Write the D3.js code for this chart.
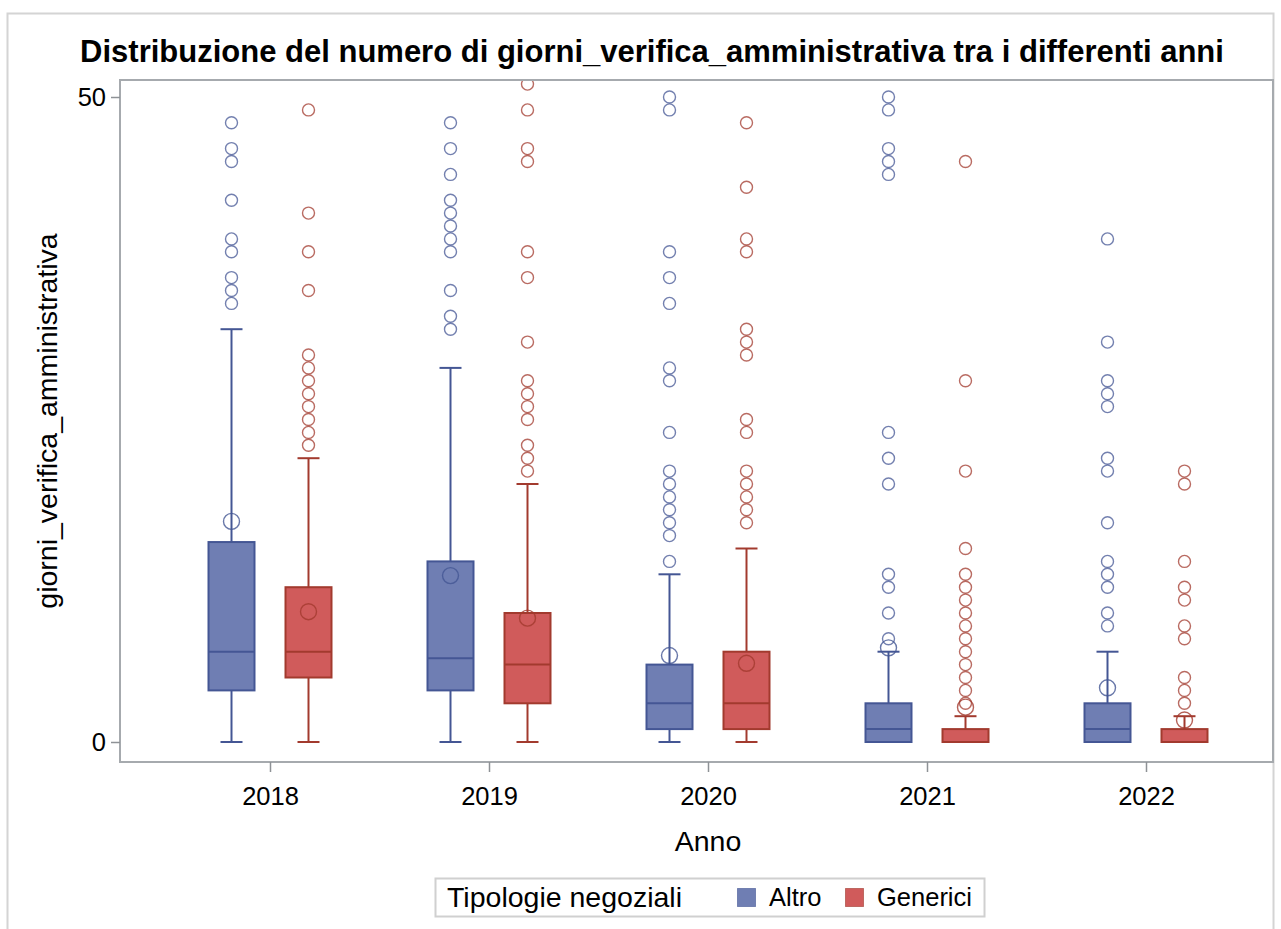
<!DOCTYPE html>
<html>
<head>
<meta charset="utf-8">
<script src="https://cdn.jsdelivr.net/npm/d3@7"></script>
<style>
  body { margin: 0; background: #fff; }
  text { font-family: "Liberation Sans", Arial, sans-serif; fill: #000; }
</style>
</head>
<body>
<div id="graph"></div>
<script>
var years = ["2018", "2019", "2020", "2021", "2022"]
var groups = ["Altro", "Generici"]

// Altro
var altroLow = [0, 0, 0, 0, 0]
var altroQ1 = [4, 4, 1, 0, 0]
var altroMedian = [7, 6.5, 3, 1, 1]
var altroQ3 = [15.5, 14, 6, 3, 3]
var altroHigh = [32, 29, 13, 7, 7]
var altroMean = [17.1, 12.9, 6.7, 7.3, 4.2]
var altroOutliers = [
  [34, 35, 36, 38, 39, 42, 45, 46, 48],
  [32, 33, 35, 38, 39, 40, 41, 42, 44, 46, 48],
  [14, 16, 17, 18, 19, 20, 21, 24, 28, 29, 34, 36, 38, 49, 50],
  [8, 10, 12, 13, 20, 22, 24, 44, 45, 46, 49, 50],
  [9, 10, 12, 13, 14, 17, 21, 22, 26, 27, 28, 31, 39]
]

// Generici
var genLow = [0, 0, 0, 0, 0]
var genQ1 = [5, 3, 1, 0, 0]
var genMedian = [7, 6, 3, 0, 0]
var genQ3 = [12, 10, 7, 1, 1]
var genHigh = [22, 20, 15, 2, 2]
var genMean = [10.1, 9.6, 6.1, 2.7, 1.7]
var genOutliers = [
  [23, 24, 25, 26, 27, 28, 29, 30, 35, 38, 41, 49],
  [21, 22, 23, 25, 26, 27, 28, 31, 36, 38, 45, 46, 49, 51],
  [17, 18, 19, 20, 21, 24, 25, 30, 31, 32, 38, 39, 43, 48],
  [3, 4, 5, 6, 7, 8, 9, 10, 11, 12, 13, 15, 21, 28, 45],
  [3, 4, 5, 8, 9, 11, 12, 14, 20, 21]
]

var yTicks = [0, 50]

var fills = { "Altro": "#6f7eb3", "Generici": "#d05b5b" }
var lines = { "Altro": "#445694", "Generici": "#a23a2e" }

var titleSize = 31, labelSize = 28.5, valueSize = 25.5

function buildBoxes(group, low, q1, med, q3, high, mean, outl) {
  return years.map(function(yr, i) {
    return { year: yr, group: group, low: low[i], q1: q1[i], median: med[i],
      q3: q3[i], high: high[i], mean: mean[i], outliers: outl[i] }
  })
}

var boxes = buildBoxes("Altro", altroLow, altroQ1, altroMedian, altroQ3, altroHigh, altroMean, altroOutliers)
  .concat(buildBoxes("Generici", genLow, genQ1, genMedian, genQ3, genHigh, genMean, genOutliers))

var width = 1281, height = 929
var plot = { left: 120, top: 80, right: 1273, bottom: 762 }

var svg = d3.select("#graph")
  .append("svg")
  .attr("width", width)
  .attr("height", height)

// outer border
svg.append("rect")
  .attr("x", 7.5).attr("y", 13.5)
  .attr("width", 1266).attr("height", 940)
  .attr("fill", "none")
  .attr("stroke", "#d4d4d4")
  .attr("stroke-width", 2)

var x = d3.scalePoint().domain(years).range([270, 1146])
var xOff = d3.scaleBand().domain(groups).range([-77, 77])
var y = d3.scaleLinear().domain([0, 50]).range([742, 97])

var boxW = 46, capW = 22

function cx(d) {
  return x(d.year) + xOff(d.group) + xOff.bandwidth() / 2
}

svg.append("defs").append("clipPath").attr("id", "clip")
  .append("rect")
  .attr("x", plot.left).attr("y", plot.top)
  .attr("width", plot.right - plot.left).attr("height", plot.bottom - plot.top)

var marks = svg.append("g").attr("clip-path", "url(#clip)")

var box = marks.selectAll(".box")
  .data(boxes)
  .enter()
  .append("g")
  .attr("class", "box")

// whiskers
box.append("line")
  .attr("x1", cx).attr("x2", cx)
  .attr("y1", function(d) { return y(d.high) })
  .attr("y2", function(d) { return y(d.q3) })
  .attr("stroke", function(d) { return lines[d.group] })
  .attr("stroke-width", 2)
box.append("line")
  .attr("x1", cx).attr("x2", cx)
  .attr("y1", function(d) { return y(d.q1) })
  .attr("y2", function(d) { return y(d.low) })
  .attr("stroke", function(d) { return lines[d.group] })
  .attr("stroke-width", 2)

// caps
box.selectAll(".cap")
  .data(function(d) { return [{ d: d, v: d.high }, { d: d, v: d.low }] })
  .enter()
  .append("line")
  .attr("x1", function(c) { return cx(c.d) - capW / 2 })
  .attr("x2", function(c) { return cx(c.d) + capW / 2 })
  .attr("y1", function(c) { return y(c.v) })
  .attr("y2", function(c) { return y(c.v) })
  .attr("stroke", function(c) { return lines[c.d.group] })
  .attr("stroke-width", 2)

// box
box.append("rect")
  .attr("x", function(d) { return cx(d) - boxW / 2 })
  .attr("y", function(d) { return y(d.q3) })
  .attr("width", boxW)
  .attr("height", function(d) { return Math.max(0, y(d.q1) - y(d.q3)) })
  .attr("fill", function(d) { return fills[d.group] })
  .attr("stroke", function(d) { return lines[d.group] })
  .attr("stroke-width", 2)

// median
box.append("line")
  .attr("x1", function(d) { return cx(d) - boxW / 2 })
  .attr("x2", function(d) { return cx(d) + boxW / 2 })
  .attr("y1", function(d) { return y(d.median) })
  .attr("y2", function(d) { return y(d.median) })
  .attr("stroke", function(d) { return lines[d.group] })
  .attr("stroke-width", 2)

// mean
box.append("circle")
  .attr("cx", cx)
  .attr("cy", function(d) { return y(d.mean) })
  .attr("r", 8)
  .attr("fill", "none")
  .attr("stroke", function(d) { return lines[d.group] })
  .attr("stroke-opacity", 0.8)
  .attr("stroke-width", 1.4)

// outliers
box.selectAll(".outlier")
  .data(function(d) { return d.outliers.map(function(v) { return { d: d, v: v } }) })
  .enter()
  .append("circle")
  .attr("class", "outlier")
  .attr("cx", function(o) { return cx(o.d) })
  .attr("cy", function(o) { return y(o.v) })
  .attr("r", 6)
  .attr("fill", "none")
  .attr("stroke", function(o) { return lines[o.d.group] })
  .attr("stroke-opacity", 0.75)
  .attr("stroke-width", 1.4)

// plot frame
svg.append("rect")
  .attr("x", plot.left).attr("y", plot.top)
  .attr("width", plot.right - plot.left).attr("height", plot.bottom - plot.top)
  .attr("fill", "none")
  .attr("stroke", "#a6aaae")
  .attr("stroke-width", 2)

// axes
var yAxis = svg.append("g")
  .attr("transform", "translate(" + plot.left + ",0)")
  .call(d3.axisLeft(y).tickValues(yTicks).tickSize(9).tickPadding(5))
yAxis.select(".domain").remove()
yAxis.selectAll(".tick line").attr("stroke", "#8e9296").attr("stroke-width", 1.5)
yAxis.selectAll(".tick text").attr("font-size", valueSize).attr("font-family", "Liberation Sans, Arial, sans-serif")

var xAxis = svg.append("g")
  .attr("transform", "translate(0," + plot.bottom + ")")
  .call(d3.axisBottom(x).tickSize(10).tickPadding(15))
xAxis.select(".domain").remove()
xAxis.selectAll(".tick line").attr("stroke", "#8e9296").attr("stroke-width", 1.5)
xAxis.selectAll(".tick text").attr("font-size", valueSize).attr("font-family", "Liberation Sans, Arial, sans-serif")

// title and axis labels
svg.append("text")
  .attr("x", 652)
  .attr("y", 62)
  .attr("text-anchor", "middle")
  .attr("font-size", titleSize)
  .attr("font-weight", "bold")
  .text("Distribuzione del numero di giorni_verifica_amministrativa tra i differenti anni")

svg.append("text")
  .attr("transform", "translate(57,421) rotate(-90)")
  .attr("text-anchor", "middle")
  .attr("font-size", labelSize)
  .text("giorni_verifica_amministrativa")

svg.append("text")
  .attr("x", 708)
  .attr("y", 851)
  .attr("text-anchor", "middle")
  .attr("font-size", labelSize)
  .text("Anno")

// legend
var legend = svg.append("g")
legend.append("rect")
  .attr("x", 435.5).attr("y", 878.5)
  .attr("width", 549).attr("height", 38)
  .attr("fill", "#fff")
  .attr("stroke", "#d0d0d0")
  .attr("stroke-width", 2)
legend.append("text")
  .attr("x", 447).attr("y", 907)
  .attr("font-size", labelSize)
  .text("Tipologie negoziali")

var legX = { "Altro": 737, "Generici": 845 }
var item = legend.selectAll(".item")
  .data(groups)
  .enter()
  .append("g")
  .attr("class", "item")
item.append("rect")
  .attr("x", function(g) { return legX[g] + 0.5 })
  .attr("y", 888.5)
  .attr("width", 18).attr("height", 18)
  .attr("fill", function(g) { return fills[g] })
  .attr("stroke", function(g) { return lines[g] })
  .attr("stroke-opacity", 0.6)
item.append("text")
  .attr("x", function(g) { return legX[g] + 32 })
  .attr("y", 906)
  .attr("font-size", valueSize)
  .text(function(g) { return g })
</script>
</body>
</html>
